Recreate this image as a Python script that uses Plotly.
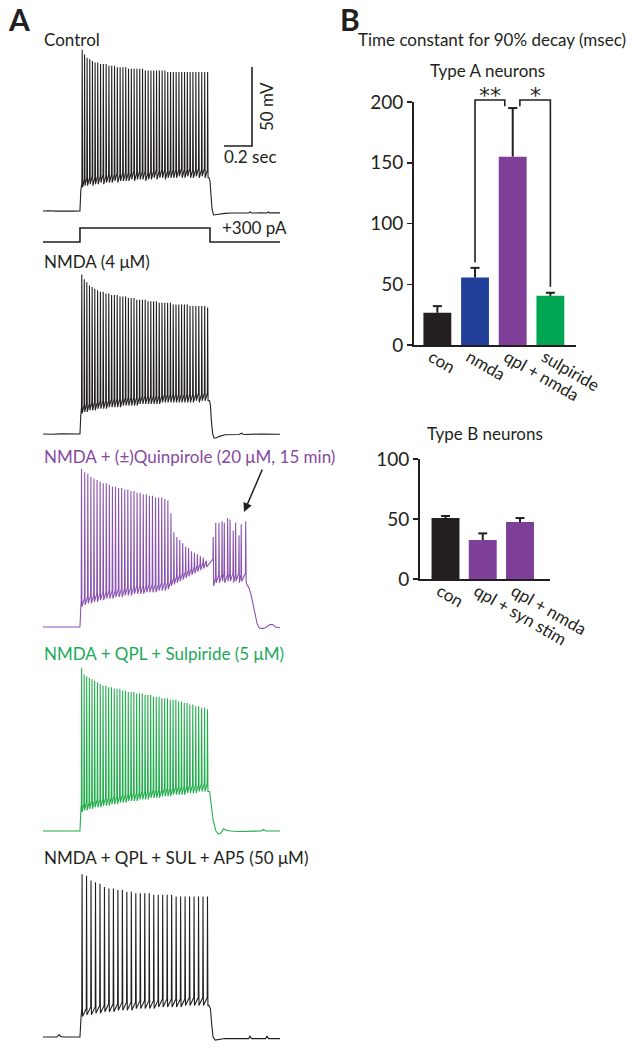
import plotly.graph_objects as go

W, H = 634, 1050
FONT = "Lato"
INK = "#231f20"

# ---------------- Panel A data: time (ms) from trace start, membrane potential (mV) ----------------
trace_end_ms = 1693
step_on_ms = 264
step_off_ms = 1193
step_current_pA = 300

ctl_pre_t = [0, 40, 90, 150, 210, 264, 270]
ctl_pre_v = [-70, -69.8, -70.1, -69.9, -70.1, -70, -57]
ctl_spk_t = [280, 297, 315, 334, 353, 372, 391, 411, 431, 451, 471, 491, 511, 531, 551, 571, 591, 611, 631, 651,
             671, 691, 711, 731, 751, 771, 791, 811, 831, 851, 871, 891, 911, 931, 951, 971, 991, 1011, 1031, 1051,
             1071, 1092, 1113, 1134, 1155, 1176]
ctl_spk_peak = [32, 29, 27, 26, 25, 24, 24, 23, 23, 23, 22, 22, 22, 21, 21, 21, 21, 20, 20, 20,
                20, 20, 20, 19, 19, 19, 19, 19, 19, 19, 19, 18, 18, 18, 18, 18, 18, 18, 18, 18,
                18, 18, 18, 18, 18, 18]
ctl_spk_trough = [-55, -54, -54, -53, -54, -53, -53, -52, -53, -52, -52, -52, -51, -52, -51, -51, -51, -51, -50, -51,
                  -50, -50, -50, -51, -50, -50, -49, -50, -49, -49, -50, -49, -49, -49, -49, -48, -49, -49, -48, -49,
                  -49, -48, -49, -48, -49, -49]
ctl_post_t = [1186, 1193, 1200, 1208, 1218, 1230, 1260, 1300, 1350, 1400, 1470, 1480, 1490, 1560, 1600, 1610, 1620, 1693]
ctl_post_v = [-49, -51, -60, -69, -72.5, -72.3, -71.8, -71.5, -71.3, -71.4, -71.3, -70.5, -71.3, -71.2, -71.3, -70.6, -71.2, -71.2]

nmda_pre_t = [0, 60, 130, 200, 264, 270]
nmda_pre_v = [-70, -70.2, -69.9, -70.1, -70, -58]
nmda_spk_t = [277, 295, 313, 332, 351, 370, 390, 410, 430, 450, 470, 490, 510, 530, 550, 570, 590, 610, 630, 650,
              670, 690, 710, 730, 750, 770, 790, 810, 830, 850, 870, 890, 910, 930, 950, 970, 990, 1010, 1030, 1050,
              1071, 1092, 1113, 1134, 1155, 1176]
nmda_spk_peak = [31, 28, 26, 24, 23, 22, 21, 20, 20, 19, 19, 18, 18, 18, 17, 17, 17, 16, 16, 16,
                 15, 15, 15, 15, 14, 14, 14, 14, 13, 13, 13, 13, 13, 12, 12, 12, 12, 12, 12, 11,
                 11, 11, 11, 11, 11, 10]
nmda_spk_trough = [-57, -56, -56, -55, -55, -55, -54, -54, -54, -54, -53, -53, -53, -53, -53, -52, -52, -52, -52, -52,
                   -52, -51, -51, -51, -51, -51, -51, -51, -51, -50, -50, -50, -50, -50, -50, -50, -50, -50, -50, -50,
                   -50, -49, -50, -49, -49, -49]
nmda_post_t = [1190, 1196, 1203, 1212, 1222, 1235, 1260, 1300, 1400, 1420, 1430, 1440, 1550, 1693]
nmda_post_v = [-49, -52, -62, -70, -72.5, -72.5, -71.5, -70.5, -70.3, -69.5, -70.2, -70.3, -70, -70.2]

qpl_pre_t = [0, 80, 160, 264, 270]
qpl_pre_v = [-70, -70.1, -69.9, -70, -58]
qpl_spk_t = [275, 298, 320, 342, 364, 386, 408, 430, 452, 474, 496, 518, 540, 562, 584, 606, 628, 650, 672, 694,
             716, 738, 760, 782, 804, 826, 848, 870, 892,
             914, 935, 956, 977, 998, 1019, 1040, 1061, 1082, 1103, 1124, 1145, 1166,
             1216, 1234, 1257, 1279, 1295, 1319, 1336, 1359, 1376, 1400, 1416, 1448]
qpl_spk_peak = [30, 28, 27, 25, 24, 23, 22, 21, 21, 20, 19, 19, 18, 18, 17, 17, 16, 16, 15, 15,
                14, 14, 13, 13, 12, 12, 12, 11, 10,
                2, -10, -13, -15, -17, -19, -20, -22, -23, -24, -25, -26, -28,
                -13, -4, -4, -3, -4, -1, -2, -9, -4, -12, -5, -3]
qpl_spk_trough = [-57, -56, -55, -55, -54, -54, -53, -53, -52, -52, -52, -51, -51, -51, -50, -50, -50, -49, -49, -49,
                  -49, -48, -48, -48, -48, -47, -47, -47, -46,
                  -44, -43, -42, -41, -40, -39, -38, -37, -36, -35, -34, -33, -32,
                  -44, -42, -42, -41, -42, -41, -41, -42, -41, -42, -41, -41]
qpl_post_t = [1455, 1470, 1485, 1500, 1515, 1530, 1545, 1560, 1590, 1620, 1640, 1660, 1693]
qpl_post_v = [-43, -45, -49, -56, -63, -68, -70.5, -71, -70.5, -68.5, -68.5, -70, -70.5]
arrow_head = (1436, 2.8)
arrow_tail = (1571, 30.6)

sul_pre_t = [0, 70, 150, 220, 264, 270]
sul_pre_v = [-70, -70.1, -69.9, -70, -70, -58]
sul_spk_t = [276, 294, 312, 331, 350, 369, 389, 409, 429, 449, 469, 489, 509, 529, 549, 569, 589, 609, 629, 649,
             669, 689, 709, 729, 749, 769, 789, 809, 829, 849, 869, 889, 909, 929, 949, 969, 989, 1009, 1029, 1049,
             1070, 1091, 1112, 1133, 1154, 1175]
sul_spk_peak = [33, 29, 28, 27, 26, 25, 24, 23, 22, 22, 21, 21, 20, 20, 20, 19, 19, 18, 18, 18,
                17, 17, 17, 16, 16, 16, 15, 15, 15, 14, 14, 14, 13, 13, 13, 12, 12, 11, 11, 10,
                10, 9, 9, 8, 8, 7]
sul_spk_trough = [-58, -57, -57, -56, -56, -55, -55, -55, -54, -54, -54, -53, -53, -53, -52, -52, -52, -51, -51, -51,
                  -51, -50, -50, -50, -50, -49, -49, -49, -49, -48, -48, -48, -48, -47, -47, -47, -47, -47, -46, -46,
                  -46, -46, -45, -45, -45, -45]
sul_post_t = [1190, 1200, 1215, 1235, 1255, 1270, 1290, 1310, 1340, 1400, 1500, 1560, 1575, 1590, 1693]
sul_post_v = [-45, -52, -63, -70, -72, -71.5, -68.5, -69.5, -70, -70.3, -70, -70, -69, -70, -70]

ap5_pre_t = [0, 100, 115, 125, 140, 264, 272]
ap5_pre_v = [-70, -70, -68.5, -69.5, -70, -70, -57]
ap5_spk_t = [279, 311, 343, 375, 407, 439, 471, 503, 535, 567, 599, 631, 663, 695, 727, 759, 791, 823, 855, 887,
             919, 951, 983, 1015, 1047, 1079, 1111, 1143, 1175]
ap5_spk_peak = [33, 32, 29, 28, 27, 25, 24, 24, 23, 23, 22, 22, 21, 21, 21, 21, 20, 20, 20, 20,
                20, 19, 19, 19, 19, 19, 19, 19, 19]
ap5_spk_trough = [-57, -56, -56, -55, -55, -54, -54, -54, -53, -53, -53, -53, -52, -52, -52, -52, -52, -51, -51, -51,
                  -51, -51, -51, -50, -50, -50, -50, -50, -50]
ap5_post_t = [1185, 1196, 1205, 1215, 1230, 1260, 1300, 1400, 1470, 1478, 1490, 1590, 1600, 1612, 1693]
ap5_post_v = [-50, -52, -62, -70, -72, -71.5, -71, -71, -71, -69.5, -71, -71, -69.5, -71, -71]

scale_t_ms = 200
scale_mv = 50
scale_corner = (1493, -28.9)

# ---------------- Panel B data ----------------
typeA_cats = ["con", "nmda", "qpl + nmda", "sulpiride"]
typeA_vals = [26.5, 55.5, 155, 40.5]
typeA_sem = [5.5, 8, 40, 2.5]
typeA_colors = ["#231f20", "#223f99", "#7d3f98", "#00a651"]
sig_brackets = [(1, 1.79, 68, "**"), (2.19, 3, 48, "*")]
sig_top = 201.6

typeB_cats = ["con", "qpl + syn stim", "qpl + nmda"]
typeB_vals = [50.8, 32.5, 47.5]
typeB_sem = [1.7, 5.5, 3.3]
typeB_colors = ["#231f20", "#7d3f98", "#7d3f98"]


def xd(p0, p1):
    return [p0 / W, p1 / W]


def yd(top, bottom):
    return [max(0, 1 - bottom / H), min(1, 1 - top / H)]


def px_x(p):
    return p / W


def px_y(p):
    return 1 - p / H


def wave(pre_t, pre_v, st, pk, tr, post_t, post_v):
    t = list(pre_t)
    v = list(pre_v)
    prev = pre_v[-1]
    for ti, p, a in zip(st, pk, tr):
        t += [ti - 2, ti, ti + 3]
        v += [prev + 5, p, a]
        prev = a
    t += list(post_t)
    v += list(post_v)
    return t, v


fig = go.Figure()
layout = dict(width=W, height=H, margin=dict(l=0, r=0, t=0, b=0, pad=0, autoexpand=False),
              paper_bgcolor="white", plot_bgcolor="rgba(0,0,0,0)",
              showlegend=False, font=dict(family=FONT, color=INK, size=17), barmode="overlay")

PXMV = 1.58
yr = [-70 - 12 / PXMV, -70 + 180 / PXMV]
traces_def = [
    (211, ctl_pre_t, ctl_pre_v, ctl_spk_t, ctl_spk_peak, ctl_spk_trough, ctl_post_t, ctl_post_v, INK),
    (434, nmda_pre_t, nmda_pre_v, nmda_spk_t, nmda_spk_peak, nmda_spk_trough, nmda_post_t, nmda_post_v, INK),
    (627, qpl_pre_t, qpl_pre_v, qpl_spk_t, qpl_spk_peak, qpl_spk_trough, qpl_post_t, qpl_post_v, "#8a52b0"),
    (831, sul_pre_t, sul_pre_v, sul_spk_t, sul_spk_peak, sul_spk_trough, sul_post_t, sul_post_v, "#22ad4c"),
    (1037, ap5_pre_t, ap5_pre_v, ap5_spk_t, ap5_spk_peak, ap5_spk_trough, ap5_post_t, ap5_post_v, INK),
]
for i, (b, pt, pv, st, pk, tr, qt, qv, col) in enumerate(traces_def, start=1):
    t, v = wave(pt, pv, st, pk, tr, qt, qv)
    sx = "" if i == 1 else str(i)
    fig.add_trace(go.Scatter(x=t, y=v, mode="lines", line=dict(color=col, width=1.1),
                             xaxis="x" + sx, yaxis="y" + sx, hoverinfo="skip"))
    layout["xaxis" + sx] = dict(domain=xd(43, 280), range=[0, trace_end_ms], visible=False, anchor="y" + sx)
    layout["yaxis" + sx] = dict(domain=yd(b - 180, b + 12), range=yr, visible=False, anchor="x" + sx)

fig.add_trace(go.Scatter(x=[scale_corner[0] - scale_t_ms, scale_corner[0], scale_corner[0]],
                         y=[scale_corner[1], scale_corner[1], scale_corner[1] + scale_mv],
                         mode="lines", line=dict(color=INK, width=1.6), xaxis="x", yaxis="y", hoverinfo="skip"))

fig.add_trace(go.Scatter(x=[0, step_on_ms, step_on_ms, step_off_ms, step_off_ms, trace_end_ms],
                         y=[0, 0, step_current_pA, step_current_pA, 0, 0],
                         mode="lines", line=dict(color=INK, width=1.6), xaxis="x6", yaxis="y6", hoverinfo="skip"))
layout["xaxis6"] = dict(domain=xd(43, 280), range=[0, trace_end_ms], visible=False, anchor="y6")
layout["yaxis6"] = dict(domain=yd(228 - 14 * 50 / 300, 242 + 14 * 50 / 300), range=[-50, 350], visible=False, anchor="x6")


def add_bars(cats, vals, sem, colors, xa, ya, width):
    idx = list(range(len(cats)))
    fig.add_trace(go.Bar(x=idx, y=vals, marker=dict(color=colors, line=dict(width=0)), width=width,
                         xaxis=xa, yaxis=ya, hoverinfo="skip"))
    ex, ey = [], []
    for i, v, s in zip(idx, vals, sem):
        ex += [i, i, None, i - 0.12, i + 0.12, None]
        ey += [v, v + s, None, v + s, v + s, None]
    fig.add_trace(go.Scatter(x=ex, y=ey, mode="lines", line=dict(color=INK, width=2),
                             xaxis=xa, yaxis=ya, hoverinfo="skip"))


add_bars(typeA_cats, typeA_vals, typeA_sem, typeA_colors, "x7", "y7", 0.74)
layout["xaxis7"] = dict(domain=xd(414, 576), range=[-0.62, 3.68], anchor="y7",
                        showline=True, linecolor=INK, linewidth=2, ticks="", tickangle=30,
                        tickvals=list(range(len(typeA_cats))), ticktext=typeA_cats,
                        ticklabelstandoff=-6, ticklabelshift=-6,
                        tickfont=dict(family=FONT, size=17, color=INK), showgrid=False, zeroline=False)
layout["yaxis7"] = dict(domain=yd(102, 345), range=[0, 200], anchor="x7", showline=True, linecolor=INK, linewidth=2,
                        ticks="outside", ticklen=5, tickwidth=1.5, tickcolor=INK, tickvals=[0, 50, 100, 150, 200],
                        tickfont=dict(family=FONT, size=19, color=INK), showgrid=False, zeroline=False)

layout["xaxis8"] = dict(domain=xd(414, 576), range=[-0.62, 3.68], visible=False, anchor="y8")
layout["yaxis8"] = dict(domain=yd(345 - 210 * 1.215, 345), range=[0, 210], visible=False, anchor="x8")
for x0, x1, low, lab in sig_brackets:
    if lab == "**":
        by = [low, sig_top, sig_top, sig_top - 5]
    else:
        by = [sig_top - 5, sig_top, sig_top, low]
    fig.add_trace(go.Scatter(x=[x0, x0, x1, x1], y=by, mode="lines", line=dict(color=INK, width=1.6),
                             xaxis="x8", yaxis="y8", hoverinfo="skip"))

add_bars(typeB_cats, typeB_vals, typeB_sem, typeB_colors, "x9", "y9", 0.75)
layout["xaxis9"] = dict(domain=xd(420, 550), range=[-0.685, 2.805], anchor="y9",
                        showline=True, linecolor=INK, linewidth=2, ticks="", tickangle=30,
                        tickvals=list(range(len(typeB_cats))), ticktext=typeB_cats,
                        ticklabelstandoff=-6, ticklabelshift=-6,
                        tickfont=dict(family=FONT, size=17, color=INK), showgrid=False, zeroline=False)
layout["yaxis9"] = dict(domain=yd(459, 579), range=[0, 100], anchor="x9", showline=True, linecolor=INK,
                        linewidth=2, ticks="outside", ticklen=5, tickwidth=1.5, tickcolor=INK,
                        tickvals=[0, 50, 100], tickfont=dict(family=FONT, size=19, color=INK),
                        showgrid=False, zeroline=False)


def txt(x, y, s, size=17, color=INK, xa="left", angle=0, bold=False, family=FONT):
    return dict(x=px_x(x), y=px_y(y), xref="paper", yref="paper", text=("<b>%s</b>" % s) if bold else s,
                showarrow=False, xanchor=xa, yanchor="middle", textangle=angle, borderpad=0,
                font=dict(family=family, size=size, color=color))


ann = [
    txt(7, 19, "A", size=30, bold=True),
    txt(339, 19, "B", size=30, bold=True),
    txt(43, 40, "Control"),
    txt(266, 107, "50 mV", angle=-90, xa="center"),
    txt(223, 157, "0.2 sec"),
    txt(221, 228, "+300 pA"),
    txt(43, 261, "NMDA (4 μM)"),
    txt(43, 457, "NMDA + (±)Quinpirole (20 μM, 15 min)", color="#86499f"),
    txt(43, 653, "NMDA + QPL + Sulpiride (5 μM)", color="#1da95a"),
    txt(43, 857, "NMDA + QPL + SUL + AP5 (50 μM)"),
    txt(357, 40, "Time constant for 90% decay (msec)"),
    txt(487, 71, "Type A neurons", xa="center"),
    txt(485, 433, "Type B neurons", xa="center"),
]
for x0, x1, low, lab in sig_brackets:
    ann.append(dict(x=(x0 + x1) / 2, y=sig_top + 4, xref="x8", yref="y8",
                    text=lab, showarrow=False, xanchor="center", yanchor="middle",
                    font=dict(family="DejaVu Sans", size=22, color=INK)))
ann.append(dict(x=arrow_head[0], y=arrow_head[1], ax=arrow_tail[0], ay=arrow_tail[1],
                xref="x3", yref="y3", axref="x3", ayref="y3", text="", showarrow=True,
                arrowhead=2, arrowsize=1.2, arrowwidth=1.5, arrowcolor=INK))
layout["annotations"] = ann

fig.update_layout(**layout)
fig.write_html("out.html", config={"displayModeBar": False, "staticPlot": True},
               post_script="document.body.style.margin='0px';")
